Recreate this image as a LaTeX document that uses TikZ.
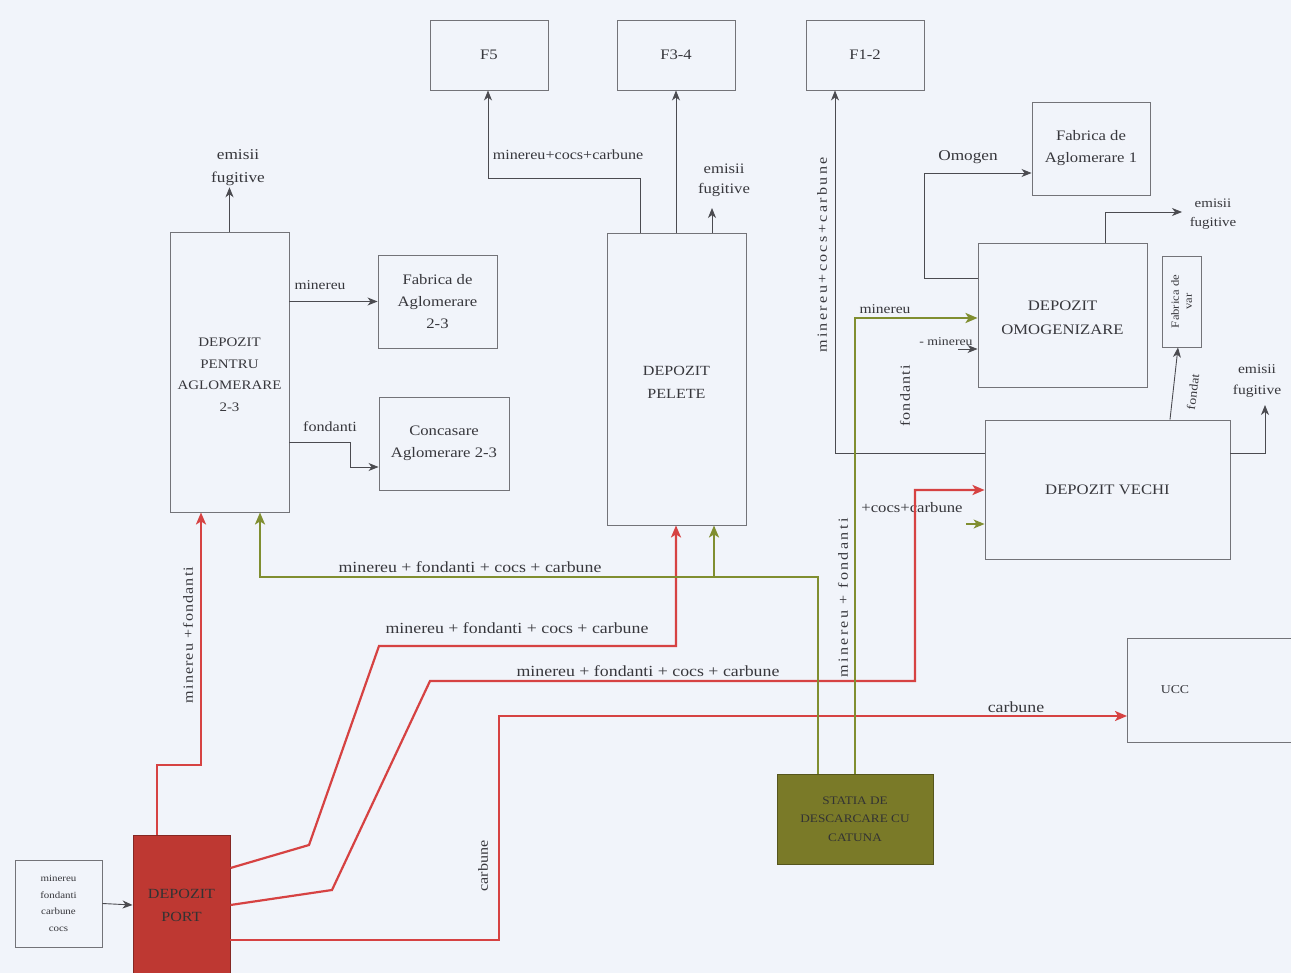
\documentclass[tikz,border=0pt]{standalone}
\usepackage{fontspec}
\setmainfont{Liberation Serif}[FakeStretch=1.15]
\newfontfamily\widefont{Liberation Serif}[FakeStretch=1.15,LetterSpace=17]
\newfontfamily\midfont{Liberation Serif}[FakeStretch=1.15,LetterSpace=8]
\usetikzlibrary{arrows.meta}
\definecolor{bgc}{RGB}{241,244,250}
\definecolor{boxline}{RGB}{115,115,120}
\definecolor{txt}{RGB}{55,55,60}
\definecolor{redline}{RGB}{214,66,66}
\definecolor{greenline}{RGB}{128,142,48}
\definecolor{portfill}{RGB}{190,56,50}
\definecolor{statfill}{RGB}{122,122,40}
\definecolor{thinline}{RGB}{75,75,80}
\tikzset{
  box/.style={draw=boxline, line width=0.9pt, fill=bgc, align=center, text=txt,
    inner sep=2pt, font=\fontsize{14.5}{22}\selectfont},
  lbl/.style={text=txt, inner sep=1pt, font=\fontsize{15.5}{21}\selectfont, align=center},
  thinarrow/.style={draw=thinline, line width=0.9pt, -{Stealth[length=10pt,width=8pt,inset=3pt]}},
  redarrow/.style={draw=redline, line width=2.2pt, -{Stealth[length=12pt,width=10pt,inset=3pt]}},
  greenarrow/.style={draw=greenline, line width=2.2pt, -{Stealth[length=12pt,width=10pt,inset=3pt]}},
}
\begin{document}
\begin{tikzpicture}[x=1pt,y=-1pt]
\fill[bgc] (0,0) rectangle (1291,973);
\useasboundingbox (0,0) rectangle (1291,973);

% ---- boxes ----
\node[box, minimum width=87pt, minimum height=87pt, font=\fontsize{9.5}{16.5}\selectfont]
  (inbox) at (58.5,903.5) {minereu\\fondanti\\carbune\\cocs};
\node[box, fill=portfill, draw=portfill!70!black, minimum width=97pt, minimum height=140pt,
  text=black!80, font=\fontsize{14}{23}\selectfont] (port) at (181.5,905) {DEPOZIT\\PORT};
\node[box, minimum width=119pt, minimum height=280pt, font=\fontsize{13}{21.5}\selectfont]
  (dpa) at (229.5,372) {};
\node[box, draw=none, fill=none, font=\fontsize{13}{21.5}\selectfont]
  (dpatext) at (229.5,375) {DEPOZIT\\PENTRU\\AGLOMERARE\\2-3};
\node[box, minimum width=119pt, minimum height=93pt] (fa23) at (437.5,301.5) {Fabrica de\\Aglomerare\\2-3};
\node[box, minimum width=130pt, minimum height=93pt]
  (conc) at (444,443.5) {Concasare\\Aglomerare 2-3};
\node[box, minimum width=118pt, minimum height=70pt] (f5) at (489,55) {F5};
\node[box, minimum width=118pt, minimum height=70pt] (f34) at (676,55) {F3-4};
\node[box, minimum width=118pt, minimum height=70pt] (f12) at (865,55) {F1-2};
\node[box, minimum width=139pt, minimum height=292pt, font=\fontsize{14}{23}\selectfont]
  (pel) at (676.5,379) {};
\node[box, draw=none, fill=none, font=\fontsize{14}{23}\selectfont]
  (peltext) at (676.5,382) {DEPOZIT\\PELETE};
\node[box, minimum width=118pt, minimum height=93pt] (fa1) at (1091,148.5) {Fabrica de\\Aglomerare 1};
\node[box, minimum width=169pt, minimum height=144pt, font=\fontsize{14.5}{24}\selectfont]
  (omo) at (1062.5,315) {};
\node[box, draw=none, fill=none, font=\fontsize{14.5}{24}\selectfont]
  (omotext) at (1062.5,318) {DEPOZIT\\OMOGENIZARE};
\node[box, minimum width=39pt, minimum height=91pt] (var) at (1181.5,301.5) {};
\node[text=txt, rotate=90, align=center, inner sep=0pt, font=\fontsize{11}{13}\selectfont]
  (vartext) at (var.center) {Fabrica de\\var};
\node[box, minimum width=245pt, minimum height=139pt, font=\fontsize{14.5}{18}\selectfont]
  (vechi) at (1107.5,489.5) {DEPOZIT VECHI};
\node[box, minimum width=180pt, minimum height=104pt, anchor=west] (ucc) at (1127,690) {};
\node[lbl, font=\fontsize{12}{14}\selectfont] (ucctext) at (1175,690) {UCC};
\node[box, fill=statfill, draw=statfill!70!black, minimum width=156pt, minimum height=90pt,
  text=black!80, font=\fontsize{11.5}{18.5}\selectfont] (statia) at (855,819) {STATIA DE\\DESCARCARE CU\\CATUNA};

% ---- text labels ----
\node[lbl, font=\fontsize{15}{23}\selectfont] (em1) at (238,168) {emisii\\fugitive};
\node[lbl, font=\fontsize{13.5}{15}\selectfont] (lminA) at (320,285) {minereu};
\node[lbl, font=\fontsize{14}{16}\selectfont] (lfond) at (330,427) {fondanti};
\node[lbl, font=\fontsize{14}{16}\selectfont] (lf5) at (568,155) {minereu+cocs+carbune};
\node[lbl, font=\fontsize{14.5}{20}\selectfont] (em2) at (724,180) {emisii\\fugitive};
\node[lbl, rotate=90, font=\widefont\fontsize{14}{16}\selectfont] (lf12) at (822,255) {minereu+cocs+carbune};
\node[lbl, font=\fontsize{15}{17}\selectfont] (lomg) at (968,157) {Omogen};
\node[lbl, font=\fontsize{13}{19}\selectfont] (em3) at (1213,214) {emisii\\fugitive};
\node[lbl, font=\fontsize{13.5}{21}\selectfont] (em4) at (1257,381) {emisii\\fugitive};
\node[lbl, rotate=83, font=\fontsize{12}{14}\selectfont] (lfondat) at (1193,392) {fondat};
\node[lbl, font=\fontsize{13.5}{16}\selectfont] (lminB) at (885,309) {minereu};
\node[lbl, font=\fontsize{12}{14}\selectfont] (lminC) at (946,342) {- minereu};
\node[lbl, rotate=90, font=\midfont\fontsize{14}{16}\selectfont] (lfondB) at (905,396) {fondanti};
\node[lbl, font=\fontsize{14.5}{16}\selectfont] (lcocs) at (912,508) {+cocs+carbune};
\node[lbl, rotate=90, font=\widefont\fontsize{14}{16}\selectfont] (lmf) at (843,598) {minereu + fondanti};
\node[lbl] (lgreen) at (470,567) {minereu + fondanti + cocs + carbune};
\node[lbl] (lred1) at (517,628) {minereu + fondanti + cocs + carbune};
\node[lbl] (lred2) at (648,671) {minereu + fondanti + cocs + carbune};
\node[lbl] (lcarb1) at (1016,707) {carbune};
\node[lbl, rotate=90, font=\fontsize{14}{16}\selectfont] (lcarb2) at (483,866) {carbune};
\node[lbl, rotate=90, font=\midfont\fontsize{14}{16}\selectfont] (lmfA) at (188,635) {minereu +fondanti};

% ---- thin connectors ----
\draw[thinarrow] (inbox.east) -- (port.west);
\draw[thinarrow] (dpa.north) -- (dpa.north |- em1.south);
\draw[thinarrow] (dpa.east |- fa23.west) -- (fa23.west);
\draw[thinarrow] (dpa.east |- 0,442) -- (350,442) -- (350,467) -- (conc.west |- 0,467);
\draw[thinarrow] (pel.north -| 640,0) -- (640,178) -- (488,178) -- (f5.south -| 488,0);
\draw[thinarrow] (pel.north -| f34.south) -- (f34.south);
\draw[thinarrow] (pel.north -| 712,0) -- (712,208);
\draw[thinarrow] (vechi.west |- 0,453) -- (835,453) -- (f12.south -| 835,0);
\draw[thinarrow] (vechi.east |- 0,453) -- (1265,453) -- (1265,405);
\draw[thinarrow] (omo.west |- 0,278) -- (924,278) -- (924,173) -- (fa1.west |- 0,173);
\draw[thinarrow] (omo.north -| 1105,0) -- (1105,212) -- (1182,212);
\draw[thinarrow] (vechi.north -| 1170,0) -- (var.south -| 1178,0);
\draw[thinarrow] (958,349) -- (omo.west |- 0,349);

% ---- red flows from the port depot ----
\draw[redarrow] (port.north -| 157,0) -- (157,765) -- (201,765) -- (dpa.south -| 201,0);
\draw[redarrow] (port.east |- 0,868) -- (309,845) -- (379,646) -- (676,646) -- (pel.south -| 676,0);
\draw[redarrow] (port.east |- 0,905) -- (332,890) -- (430,681) -- (915,681) -- (915,490) -- (vechi.west |- 0,490);
\draw[redarrow] (port.east |- 0,940) -- (499,940) -- (499,716) -- (ucc.west |- 0,716);

% ---- green flows from the unloading station ----
\draw[greenarrow] (statia.north -| 818,0) -- (818,577) -- (260,577) -- (dpa.south -| 260,0);
\draw[greenarrow] (714,577) -- (pel.south -| 714,0);
\draw[greenarrow] (statia.north -| 855,0) -- (855,318) -- (omo.west |- 0,318);
\draw[greenline, line width=1.2pt, -{Stealth[length=11pt,width=9pt,inset=3pt]}] (966,524) -- (vechi.west |- 0,524);
\end{tikzpicture}
\end{document}
